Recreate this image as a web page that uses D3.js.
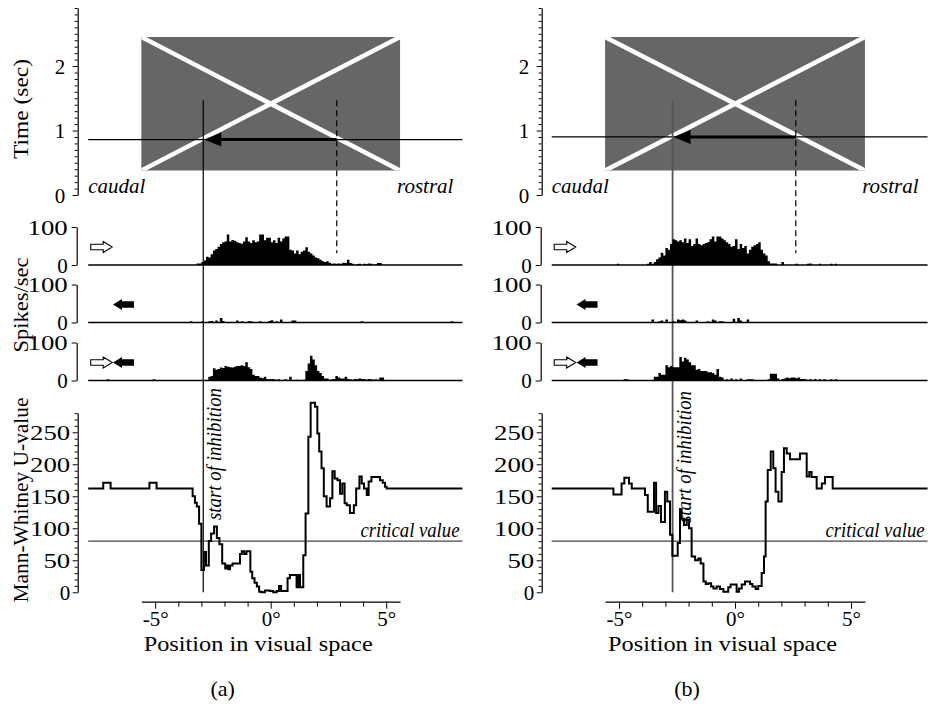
<!DOCTYPE html>
<html><head><meta charset="utf-8">
<script src="https://cdn.jsdelivr.net/npm/d3@7"></script>
<style>
body{margin:0;background:#fff}
svg{display:block}
text{font-family:"Liberation Serif","Times New Roman",serif;fill:#000}
</style>
</head><body>
<svg id="c" width="931" height="704"></svg>
<script>
// ---------------- data ----------------
const binWidth = 0.1;                 // degrees per histogram bin
const dataExtent = [-7.9, 8.3];       // range of the recorded traces (deg)
const posTicks = [-5, 0, 5];
const posMinorTicks = [-5,-4,-3,-2,-1,0,1,2,3,4,5];
const timeTicks = [0, 1, 2];
const uTicks = [0, 50, 100, 150, 200, 250];
const spikeTicks = [0, 100];
const criticalU = 80;

// stimulus timing (sec) and positions (deg)
const stimBand = [0.38, 2.45];
const sweepTimeA = 0.86, sweepTimeB = 0.90;
const inhibitionA = -2.92, inhibitionB = -2.69;
const dashedA = 2.86, dashedB = 2.62;

// panel (a) histograms: spikes/sec in 0.1 deg bins
const a1Start = -3.2;
const a1Counts = [4,4,8,12,22,20,28,38,42,48,55,60,62,80,62,66,64,60,58,56,62,73,62,58,65,60,62,80,80,65,72,72,60,65,58,72,62,70,75,75,40,38,30,38,28,35,38,47,35,30,25,20,18,14,10,8,10,6,3,4,3,4,3,6,5,14,5,3,0,2,3,0,3,2,4,3,0,2,5,5];
const a1Extra = [];
const a2Start = 0;
const a2Counts = [];
const a2Extra = [[-3.5,3],[-3.0,3],[-2.7,3],[-2.6,4],[-2.4,5],[-2.2,12],[-2.1,4],[-1.5,5],[-1.3,3],[-1.0,3],[-0.9,3],[-0.5,3],[-0.1,4],[0.0,6],[0.2,3],[0.4,8],[0.9,5],[1.0,5],[3.9,3],[7.8,3]];
const a3Start = -2.7;
const a3Counts = [10,12,32,28,30,34,33,38,36,35,34,36,38,38,40,38,48,35,30,15,12,12,8,6,10,4,3,4,3,2,3,0,2,3,0,10,0,0,2,0,0,2,25,45,65,55,40,25,20,12,5,5,2,3,4,12,8,5,5,10,4,3,2,4,3,5,4,4,2,4,3,2,3,2,8,8];
const a3Extra = [[-7.1,3],[-5.1,3]];

// panel (b) histograms
const b1Start = -3.8;
const b1Counts = [3,8,3,8,15,20,32,25,45,40,55,68,65,62,65,60,70,58,68,50,55,70,55,52,55,58,60,68,75,62,75,75,70,65,60,55,48,50,68,42,55,45,50,30,40,48,52,55,60,40,30,25,10,4,4,4,0,0,8];
const b1Extra = [[-5.1,3],[2.6,3],[3.1,3],[3.2,4],[3.6,3],[4.1,3],[4.3,3]];
const b2Start = 0;
const b2Counts = [];
const b2Extra = [[-3.6,8],[-3.3,3],[-3.2,5],[-3.0,8],[-2.7,3],[-2.5,8],[-2.4,6],[-2.3,8],[-2.2,5],[-1.7,5],[-1.2,3],[-1.0,8],[-0.9,5],[-0.7,3],[-0.6,3],[-0.1,10],[0.1,12],[0.2,5],[0.5,8]];
const b3Start = -3.5;
const b3Counts = [10,10,20,15,15,40,35,38,35,35,35,62,50,60,55,48,40,40,28,30,25,25,25,22,22,20,15,30,10,8,0,3,0,5,0,3,0,5,0,0,3,3,3,0,0,0,0,0,0,3,18,18,18,5,0,4,5,8,6,8,8,6,8,4,4,3,0,3,0,4,0,3,0,3,0,0,3,0,3];
const b3Extra = [[-4.8,3],[-4.7,3]];

// Mann-Whitney U steps: [start position (deg), U]
const uStepsA = [[-7.9,162],[-7.25,171],[-6.93,162],[-5.25,171],[-4.94,162],[-3.38,150],[-3.28,140],[-3.2,134],[-3.1,107],[-3.0,35],[-2.89,63],[-2.8,42],[-2.68,80],[-2.58,92],[-2.45,103],[-2.33,85],[-2.22,75],[-2.1,45],[-1.97,37],[-1.9,42],[-1.83,36],[-1.76,42],[-1.65,45],[-1.33,60],[-1.25,64],[-1.15,60],[-1.05,64],[-0.88,32],[-0.8,22],[-0.7,15],[-0.6,9],[-0.5,1],[-0.39,0],[-0.25,3],[-0.04,2],[0.11,0],[0.26,2],[0.36,10],[0.45,2],[0.73,22],[0.83,27],[1.12,8],[1.2,27],[1.27,8],[1.41,58],[1.51,123],[1.63,243],[1.73,296],[1.92,290],[2.02,248],[2.1,220],[2.2,194],[2.3,150],[2.42,134],[2.57,147],[2.67,189],[2.77,178],[2.89,175],[3.0,154],[3.1,170],[3.2,139],[3.29,136],[3.43,124],[3.6,136],[3.7,162],[3.84,181],[3.94,170],[4.04,162],[4.16,152],[4.24,173],[4.36,180],[4.73,175],[4.85,171],[4.95,165],[5.02,162],[8.3,162]];
const uStepsB = [[-7.9,162],[-5.24,153],[-4.89,170],[-4.77,179],[-4.57,170],[-4.45,162],[-3.88,152],[-3.76,126],[-3.49,171],[-3.4,124],[-3.3,135],[-3.19,110],[-3.02,157],[-2.92,142],[-2.8,90],[-2.7,57],[-2.47,77],[-2.37,130],[-2.3,115],[-2.2,105],[-2.08,113],[-1.98,100],[-1.87,56],[-1.72,50],[-1.58,53],[-1.48,45],[-1.36,17],[-1.26,13],[-1.15,14],[-1.03,9],[-0.93,6],[-0.79,9],[-0.65,5],[-0.5,1],[-0.29,8],[-0.19,12],[0.07,1],[0.17,6],[0.29,12],[0.43,17],[0.65,13],[0.75,9],[0.89,5],[1.0,10],[1.15,30],[1.25,56],[1.32,142],[1.41,191],[1.54,220],[1.65,194],[1.75,157],[1.87,142],[2.01,188],[2.11,225],[2.23,217],[2.37,208],[2.8,217],[3.09,181],[3.2,188],[3.3,180],[3.52,162],[3.74,170],[3.88,180],[4.21,162],[8.3,162]];

// ---------------- drawing ----------------
const svg = d3.select("#c");
const FONT = '"Liberation Serif","Times New Roman",serif';

const panels = [
  {x0:270.7, k:23.1, axisX:77.7, sweep:sweepTimeA, inh:inhibitionA, dash:dashedA, label:"(a)", yLabels:true, inhColor:"#000", inhW:1.2, inhY:520,
   hist:[[a1Start,a1Counts,a1Extra],[a2Start,a2Counts,a2Extra],[a3Start,a3Counts,a3Extra]], u:uStepsA},
  {x0:735, k:23.2, axisX:541.7, sweep:sweepTimeB, inh:inhibitionB, dash:dashedB, label:"(b)", yLabels:false, inhColor:"#555", inhW:1.8, inhY:523,
   hist:[[b1Start,b1Counts,b1Extra],[b2Start,b2Counts,b2Extra],[b3Start,b3Counts,b3Extra]], u:uStepsB}
];

function styleAxis(ga){
  ga.attr("font-family",null).attr("font-size",null);
  ga.selectAll("text").attr("font-family",FONT).attr("font-size",21);
  ga.select(".domain").attr("stroke","#000").attr("stroke-width",1.2);
  ga.selectAll(".tick line").attr("stroke","#000").attr("stroke-width",1);
}
// wide numerals like the reference: stretch multi-digit labels
function widenDigits(sel){
  sel.each(function(){
    const t = d3.select(this).text();
    if (t.length > 1) d3.select(this).attr("textLength", 13.4*t.length).attr("lengthAdjust","spacingAndGlyphs");
  });
}

panels.forEach((P,pi)=>{
  const g = svg.append("g");
  const x = d3.scaleLinear().domain([-5.6,5.6]).range([P.x0-5.6*P.k, P.x0+5.6*P.k]);
  const yT = d3.scaleLinear().domain([0,2.9]).range([195,8]);
  const yU = d3.scaleLinear().domain([0,280]).range([592.3,413.1]);
  const bases = [265,322.5,380.5];
  const yH = bases.map(b=>d3.scaleLinear().domain([0,100]).range([b,b-38]));
  const xL = x(dataExtent[0]), xR = x(dataExtent[1]);

  // ---- stimulus panel ----
  const rx0 = x(-5.6), rx1 = x(5.6), ry0 = yT(stimBand[1]), ry1 = yT(stimBand[0]);
  const cid = "clip"+pi;
  svg.append("clipPath").attr("id",cid).append("rect")
    .attr("x",rx0).attr("y",ry0).attr("width",rx1-rx0).attr("height",ry1-ry0);
  g.append("rect").attr("x",rx0).attr("y",ry0).attr("width",rx1-rx0).attr("height",ry1-ry0).attr("fill","#666");
  const cross = g.append("g").attr("clip-path",`url(#${cid})`);
  cross.append("line").attr("x1",rx0).attr("y1",ry0).attr("x2",rx1).attr("y2",ry1).attr("stroke","#fff").attr("stroke-width",4.5);
  cross.append("line").attr("x1",rx0).attr("y1",ry1).attr("x2",rx1).attr("y2",ry0).attr("stroke","#fff").attr("stroke-width",4.5);

  const ys = yT(P.sweep);
  g.append("line").attr("x1",xL).attr("x2",xR).attr("y1",ys).attr("y2",ys).attr("stroke","#000").attr("stroke-width",1.2);
  g.append("line").attr("x1",x(P.dash)).attr("x2",x(P.inh)+15).attr("y1",ys).attr("y2",ys).attr("stroke","#000").attr("stroke-width",3);
  const tip = x(P.inh)+1;
  g.append("path").attr("d",`M${tip},${ys} L${tip+17},${ys-7} L${tip+17},${ys+7} Z`).attr("fill","#000");

  // vertical markers
  g.append("line").attr("x1",x(P.inh)).attr("x2",x(P.inh)).attr("y1",yT(1.47)).attr("y2",yU(0))
    .attr("stroke",P.inhColor).attr("stroke-width",P.inhW);
  g.append("line").attr("x1",x(P.dash)).attr("x2",x(P.dash)).attr("y1",yT(1.47)).attr("y2",yH[0](31))
    .attr("stroke","#000").attr("stroke-width",1.2).attr("stroke-dasharray","6,4");

  g.append("text").text("caudal").attr("x",xL).attr("y",193).attr("font-style","italic").attr("font-size",21);
  g.append("text").text("rostral").attr("x",xR-9).attr("y",193).attr("text-anchor","end").attr("font-style","italic").attr("font-size",21);

  // time axis
  const tAxis = d3.axisLeft(yT).tickValues(d3.range(0,30).map(i=>i/10)).tickSizeOuter(0).tickSizeInner(3)
    .tickFormat(d=> (Math.abs(d-Math.round(d))<1e-6 && timeTicks.includes(Math.round(d))) ? String(Math.round(d)) : "");
  const gt = g.append("g").attr("transform",`translate(${P.axisX},0)`).call(tAxis);
  styleAxis(gt);
  gt.selectAll(".tick line").attr("x2",d=>Math.abs(d-Math.round(d))<1e-6?-5:-3);
  gt.selectAll(".tick text").attr("x",-12.5).attr("dy","0.34em");

  // ---- histograms ----
  P.hist.forEach((h,hi)=>{
    const [start, counts, extra] = h;
    const ysc = yH[hi];
    const bars = counts.map((v,i)=>[start+i*binWidth, v]).concat(extra).filter(d=>d[1]>0);
    const d = bars.map(b=>{
      const bx0 = x(b[0]), bx1 = x(b[0]+binWidth)+0.2;
      return `M${bx0},${ysc(b[1])}H${bx1}V${ysc(0)}H${bx0}Z`;
    }).join("");
    g.append("path").attr("d",d).attr("fill","#000");
    g.append("line").attr("x1",xL).attr("x2",xR).attr("y1",ysc(0)).attr("y2",ysc(0)).attr("stroke","#000").attr("stroke-width",1.4);
    const sAxis = d3.axisLeft(ysc).tickValues(spikeTicks).tickSizeOuter(0).tickSizeInner(5).tickFormat(d=>String(d));
    const gs = g.append("g").attr("transform",`translate(${P.axisX-1},0)`).call(sAxis);
    styleAxis(gs);
    gs.selectAll(".tick text").attr("x",-9).attr("dy","0.34em").call(widenDigits);

    // direction icons
    const iy = ysc(0)-18;
    const ix = x(dataExtent[0]) + 2.5;
    const openArrow = (x0)=> `M${x0},${iy-2.8} H${x0+12.5} V${iy-5.5} L${x0+21.5},${iy} L${x0+12.5},${iy+5.5} V${iy+2.8} H${x0} Z`;
    const fullArrow = (x0)=> `M${x0},${iy} L${x0+9},${iy-5.5} V${iy-3.2} H${x0+21} V${iy+3.2} H${x0+9} V${iy+5.5} Z`;
    if (hi===0 || hi===2) g.append("path").attr("d",openArrow(ix)).attr("fill","#fff").attr("stroke","#000").attr("stroke-width",1.1);
    if (hi===1 || hi===2) g.append("path").attr("d",fullArrow(ix+22.3)).attr("fill","#000");
  });

  // ---- Mann-Whitney ----
  g.append("line").attr("x1",xL).attr("x2",xR).attr("y1",yU(criticalU)).attr("y2",yU(criticalU)).attr("stroke","#444").attr("stroke-width",1.4);
  const line = d3.line().x(d=>x(d[0])).y(d=>yU(d[1])).curve(d3.curveStepAfter);
  g.append("path").attr("d",line(P.u)).attr("fill","none").attr("stroke","#000").attr("stroke-width",2);
  g.append("text").text("critical value").attr("x",xR-3).attr("y",yU(criticalU)-4.5).attr("text-anchor","end")
    .attr("font-style","italic").attr("font-size",20).attr("textLength",99).attr("lengthAdjust","spacingAndGlyphs");
  g.append("text").text("start of inhibition").attr("font-style","italic").attr("font-size",20)
    .attr("transform",`translate(${x(P.inh)+18},${P.inhY}) rotate(-90)`).attr("textLength",132).attr("lengthAdjust","spacingAndGlyphs");

  const uAxis = d3.axisLeft(yU).tickValues(d3.range(0,281,10)).tickSizeOuter(0).tickSizeInner(3)
    .tickFormat(d=> uTicks.includes(d) ? String(d) : "");
  const gu = g.append("g").attr("transform",`translate(${P.axisX},0)`).call(uAxis);
  styleAxis(gu);
  gu.selectAll(".tick line").attr("x2",d=>d%50===0?-5:-3);
  gu.selectAll(".tick text").attr("x",-7.5).attr("dy","0.34em").call(widenDigits);

  // position axis
  const xAxis = d3.axisBottom(x).tickValues(posMinorTicks).tickSizeOuter(0).tickSizeInner(5)
    .tickFormat(d=> posTicks.includes(d) ? `${d}°` : "");
  const gx = g.append("g").attr("transform",`translate(0,601.7)`).call(xAxis);
  styleAxis(gx);
  gx.selectAll(".tick line").attr("y2",d=>posTicks.includes(d)?7:5);
  gx.selectAll(".tick text").attr("y",24).attr("dy",null);

  g.append("text").text("Position in visual space").attr("x",P.x0-12.5).attr("y",651).attr("text-anchor","middle")
    .attr("font-size",22).attr("textLength",229).attr("lengthAdjust","spacingAndGlyphs");
  g.append("text").text(P.label).attr("x",P.x0-48).attr("y",696).attr("text-anchor","middle").attr("font-size",22);

  if (P.yLabels){
    const lab = (t,cy,len)=> svg.append("text").text(t).attr("text-anchor","middle").attr("font-size",22)
      .attr("transform",`translate(27.5,${cy}) rotate(-90)`).attr("textLength",len).attr("lengthAdjust","spacingAndGlyphs");
    lab("Time (sec)",109,100);
    lab("Spikes/sec",305,95);
    lab("Mann-Whitney U-value",500,205);
  }
});
</script>
</body></html>
